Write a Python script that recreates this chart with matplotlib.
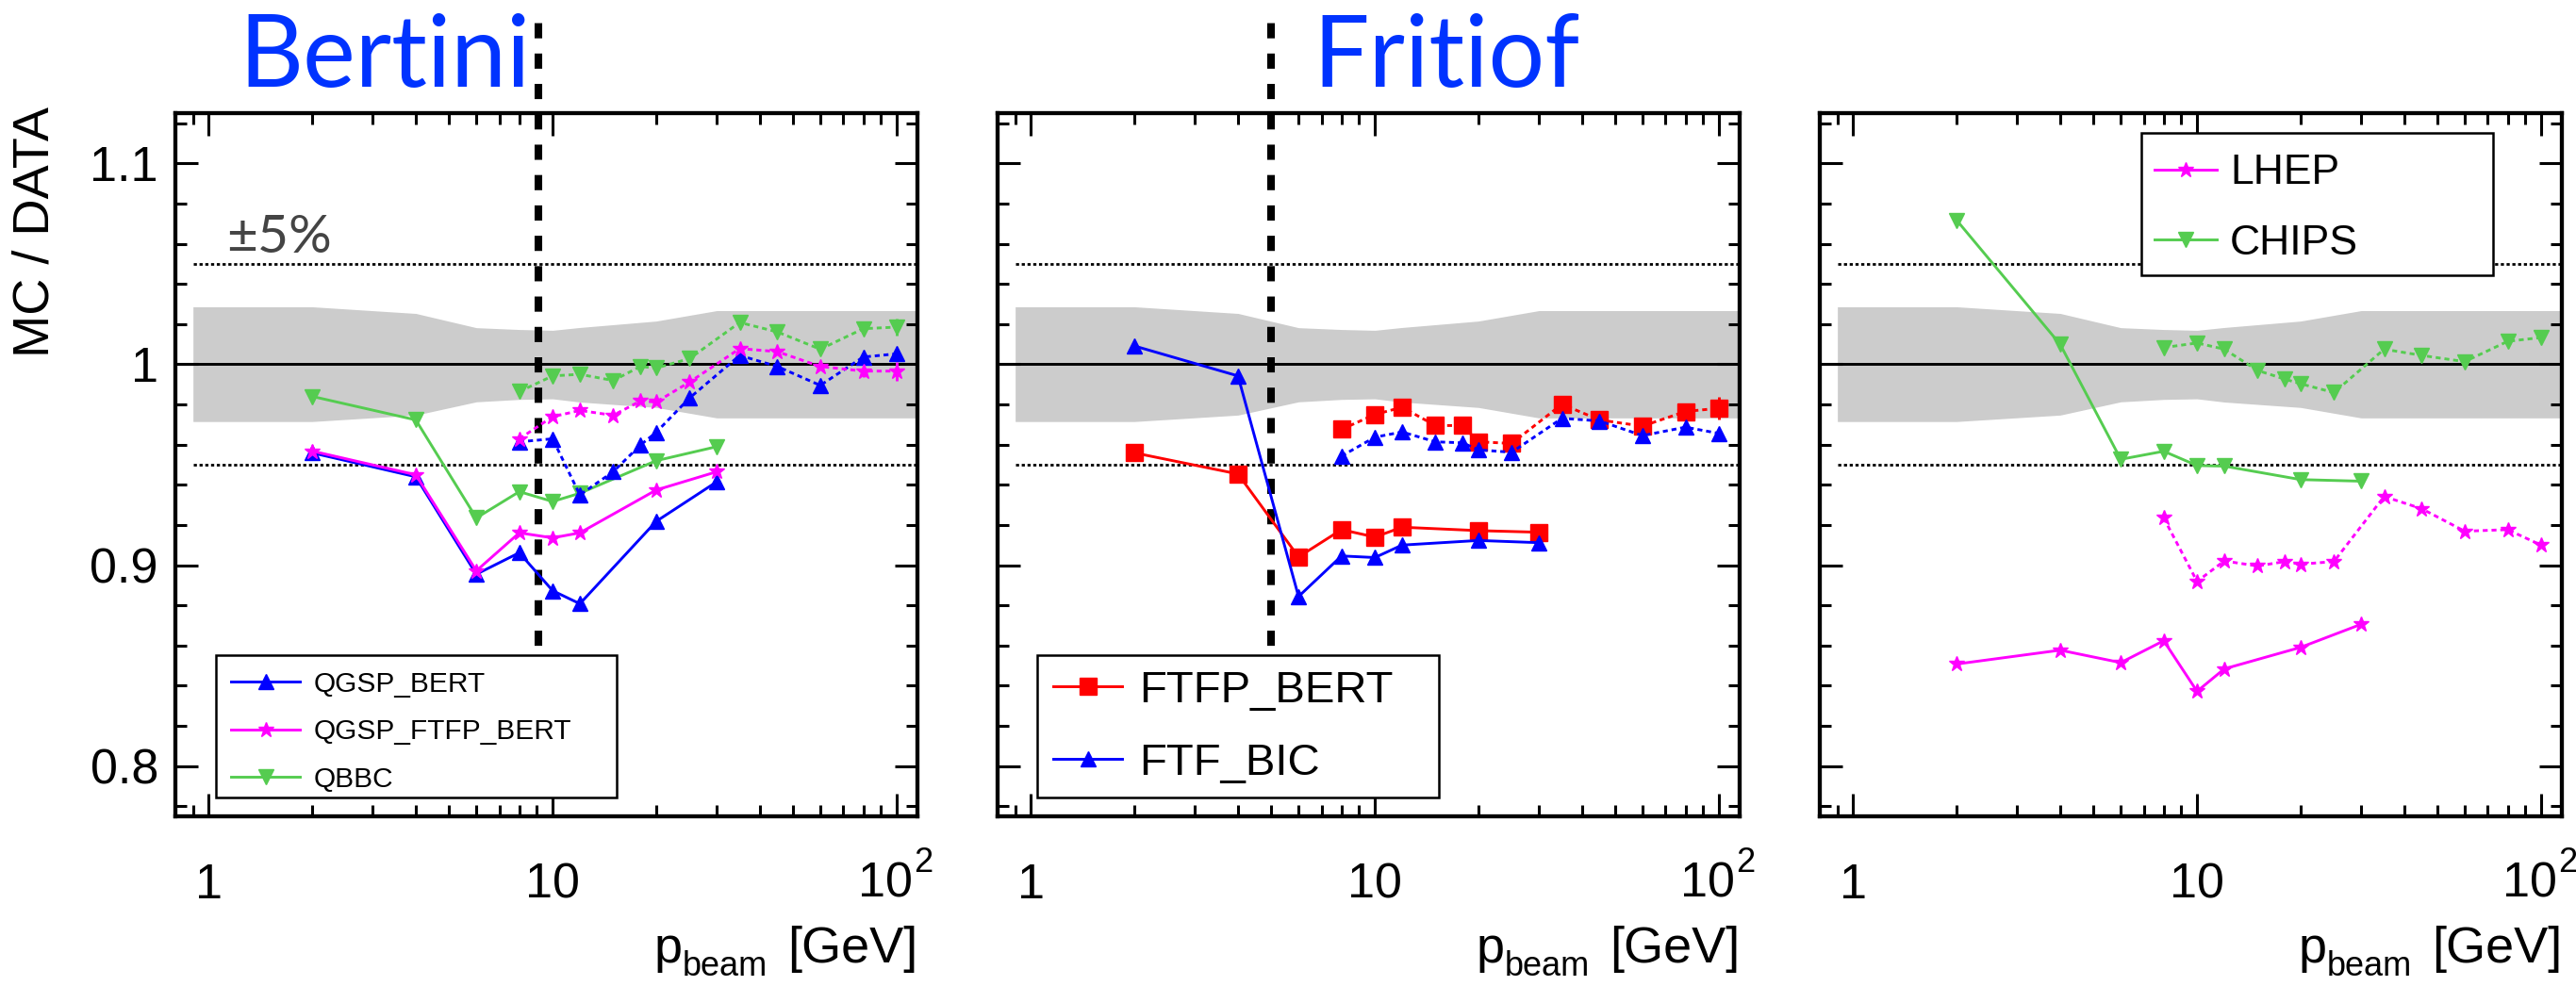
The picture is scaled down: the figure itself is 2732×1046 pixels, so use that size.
import matplotlib
matplotlib.use('Agg')
import matplotlib.pyplot as plt
import numpy as np
from matplotlib.patches import Rectangle
from matplotlib.transforms import ScaledTranslation
from matplotlib.ticker import (FixedLocator, FixedFormatter, MultipleLocator,
                               LogLocator, NullFormatter)

plt.rcParams['font.family'] = ['Liberation Sans', 'DejaVu Sans']

# beam momenta [GeV]
p_low = [2, 4, 6, 8, 10, 12, 20, 30]
p_high = [8, 10, 12, 15, 18, 20, 25, 35, 45, 60, 80, 100]

# data uncertainty band
band_p = [0.9, 2, 4, 6, 8, 10, 12, 20, 30, 115]
band_hi = [1.0286, 1.0286, 1.0253, 1.0182, 1.0173, 1.0169, 1.0183, 1.0215, 1.0267, 1.0267]
band_lo = [0.9715, 0.9715, 0.9747, 0.9813, 0.9825, 0.9828, 0.9812, 0.9785, 0.9733, 0.9733]
ref_levels = [0.95, 1.05]

# Bertini
qgsp_bert_low = [0.9559, 0.944, 0.8955, 0.9062, 0.8873, 0.8808, 0.9218, 0.9415]
qgsp_bert_high = [0.9614, 0.9629, 0.935, 0.9465, 0.9598, 0.9661, 0.9832, 1.0044, 0.9989, 0.9895, 1.0036, 1.0052]
qgsp_ftfp_low = [0.9568, 0.945, 0.8972, 0.9161, 0.9136, 0.9161, 0.9374, 0.9465]
qgsp_ftfp_high = [0.9629, 0.9739, 0.977, 0.9746, 0.9817, 0.9812, 0.9911, 1.0078, 1.0063, 0.9989, 0.9966, 0.9966]
qgsp_ftfp_err = [0, 0, 0, 0, 0, 0, 0, 0, 0, 0, 0.003, 0.0047]
qbbc_low = [0.984, 0.9723, 0.9235, 0.9366, 0.9317, 0.9358, 0.952, 0.959]
qbbc_high = [0.9864, 0.9942, 0.995, 0.9919, 0.9989, 0.9981, 1.0028, 1.0208, 1.0161, 1.0075, 1.0177, 1.0185]
qbbc_err = [0, 0, 0, 0, 0, 0, 0, 0, 0, 0, 0, 0.004]

# Fritiof
ftfp_bert_low = [0.9559, 0.9454, 0.9041, 0.9177, 0.914, 0.9189, 0.9172, 0.9164]
ftfp_bert_high = [0.9676, 0.975, 0.9786, 0.9695, 0.9695, 0.9614, 0.9606, 0.9801, 0.9723, 0.9692, 0.9765, 0.9781]
ftfp_bert_err = [0, 0, 0, 0, 0, 0, 0, 0, 0, 0, 0, 0.0056]
ftf_bic_low = [1.0091, 0.9942, 0.8844, 0.9046, 0.9038, 0.91, 0.9123, 0.9112]
ftf_bic_high = [0.9543, 0.9637, 0.9663, 0.9614, 0.9609, 0.9574, 0.9562, 0.9731, 0.9718, 0.9645, 0.9687, 0.9656]

# others
lhep_low = [0.8508, 0.8577, 0.8515, 0.8624, 0.8372, 0.8484, 0.8591, 0.8706]
lhep_high = [0.9235, 0.8919, 0.9021, 0.8996, 0.9018, 0.9005, 0.9018, 0.9342, 0.9281, 0.9169, 0.9177, 0.91]
chips_low = [1.0717, 1.0099, 0.9527, 0.9567, 0.9496, 0.9493, 0.9426, 0.9418]
chips_high = [1.0083, 1.0106, 1.0075, 0.9969, 0.9926, 0.9903, 0.9859, 1.0075, 1.0044, 1.0013, 1.0114, 1.0133]

cut_p = [9.1, 5.0, None]
x_ticks = [1, 10, 100]
x_ticklabels = ['1', '10', '']      # 10^2 is drawn by hand (ROOT-like exponent)
y_ticks = [0.8, 0.9, 1.0, 1.1]
y_ticklabels = ['0.8', '0.9', '1', '1.1']

BLUE, MAG, GREEN, RED = '#0000ff', '#ff00ff', '#55cc50', '#ff0000'
LW = 2.1
DASH = (0, (1.8, 1.4))

W, H = 2732, 1046
fig = plt.figure(figsize=(W / 100, H / 100), dpi=100)
axes = [fig.add_axes([l / W, (H - 866) / H, 787 / W, 746 / H]) for l in (186, 1058, 1930)]


def series(ax, x, y, color, marker, ms, dashed=False, err=None, label=None):
    ls = DASH if dashed else '-'
    if err is not None:
        ax.errorbar(x, y, yerr=err, color=color, ls='none', lw=LW, capsize=0, zorder=4)
    line, = ax.plot(x, y, color=color, ls=ls, lw=LW, marker=marker, ms=ms,
                    mew=1, mec=color, mfc=color, zorder=4, label=label)
    return line


def legend_box(ax, handles, box, anchor, fs, hl, htp, ls):
    # plain square frame drawn by hand, entries placed inside it
    ax.add_patch(Rectangle(box[:2], box[2], box[3], transform=ax.transAxes,
                           fc='white', ec='black', lw=1.8, zorder=5, clip_on=False))
    leg = ax.legend(handles=handles, loc='upper left', bbox_to_anchor=anchor,
                    borderaxespad=0, borderpad=0, fontsize=fs, handlelength=hl,
                    handletextpad=htp, labelspacing=ls, frameon=False, numpoints=1)
    leg.set_zorder(6)


for i, ax in enumerate(axes):
    ax.fill_between(band_p, band_lo, band_hi, color='#cccccc', lw=0, zorder=1)
    ax.hlines(ref_levels, band_p[0], band_p[-1], colors='black', lw=2.0,
              linestyles=[(0, (1.2, 1.0))], zorder=2)
    ax.axhline(1.0, color='black', lw=2.1, zorder=2)
    if cut_p[i] is not None:
        ax.axvline(cut_p[i], ymin=0.07, ymax=1.14, color='black', lw=5.8,
                   ls=(0, (2, 2)), clip_on=False, zorder=3)

    ax.set_xscale('log')
    ax.set_xlim(0.8, 115)
    ax.set_ylim(0.775, 1.125)
    ax.xaxis.set_major_locator(FixedLocator(x_ticks))
    ax.xaxis.set_major_formatter(FixedFormatter(x_ticklabels))
    ax.xaxis.set_minor_locator(LogLocator(base=10, subs=np.arange(2, 10), numticks=30))
    ax.xaxis.set_minor_formatter(NullFormatter())
    ax.yaxis.set_major_locator(FixedLocator(y_ticks))
    ax.yaxis.set_minor_locator(MultipleLocator(0.02))
    ax.tick_params(which='both', direction='in', top=True, right=True, width=2.2)
    ax.tick_params(which='major', length=17)
    ax.tick_params(which='minor', length=8.5)
    ax.tick_params(axis='x', which='major', labelsize=37.5, pad=35)
    ax.tick_params(axis='y', which='major', labelsize=37.5, pad=13, labelleft=(i == 0))
    if i == 0:
        ax.yaxis.set_major_formatter(FixedFormatter(y_ticklabels))
    for s in ax.spines.values():
        s.set_linewidth(3.1)

    # 10^2 label: mantissa and raised exponent
    xtrans = ax.get_xaxis_transform()
    ax.text(x_ticks[2], 0, '10', fontsize=37.5, ha='right', va='baseline',
            transform=xtrans + ScaledTranslation(0.17, -0.855, fig.dpi_scale_trans))
    ax.text(x_ticks[2], 0, '2', fontsize=26, ha='left', va='baseline',
            transform=xtrans + ScaledTranslation(0.185, -0.59, fig.dpi_scale_trans))

    # x title, ROOT style: p with a large low subscript
    ax.text(0.6836, -0.2084, 'p', transform=ax.transAxes, fontsize=39,
            ha='right', va='baseline')
    ax.text(0.6836, -0.2265, 'beam', transform=ax.transAxes, fontsize=26,
            ha='left', va='baseline')
    ax.text(1.001, -0.2084, '[GeV]', transform=ax.transAxes, fontsize=39,
            ha='right', va='baseline')

axes[0].set_ylabel('MC / DATA', fontsize=39, ha='right', va='baseline')
axes[0].yaxis.set_label_coords(-0.1715, 1.0094)

# Bertini panel
ax = axes[0]
h1 = series(ax, p_low, qgsp_bert_low, BLUE, '^', 11.5, label='QGSP_BERT')
h2 = series(ax, p_low, qgsp_ftfp_low, MAG, '*', 12, label='QGSP_FTFP_BERT')
h3 = series(ax, p_low, qbbc_low, GREEN, 'v', 11.5, label='QBBC')
series(ax, p_high, qgsp_bert_high, BLUE, '^', 11.5, dashed=True)
series(ax, p_high, qgsp_ftfp_high, MAG, '*', 12, dashed=True, err=qgsp_ftfp_err)
series(ax, p_high, qbbc_high, GREEN, 'v', 11.5, dashed=True, err=qbbc_err)
legend_box(ax, [h1, h2, h3], (0.0546, 0.0268, 0.5401, 0.2024), (0.0756, 0.2071),
           21.5, 2.43, 0.48, 0.76)

# Fritiof panel
ax = axes[1]
h1 = series(ax, p_low, ftfp_bert_low, RED, 's', 13, label='FTFP_BERT')
h2 = series(ax, p_low, ftf_bic_low, BLUE, '^', 11.5, label='FTF_BIC')
series(ax, p_high, ftfp_bert_high, RED, 's', 13, dashed=True, err=ftfp_bert_err)
series(ax, p_high, ftf_bic_high, BLUE, '^', 11.5, dashed=True)
legend_box(ax, [h1, h2], (0.0534, 0.0268, 0.5413, 0.2024), (0.075, 0.2083),
           34, 1.55, 0.38, 0.70)

# LHEP / CHIPS panel
ax = axes[2]
h1 = series(ax, p_low, lhep_low, MAG, '*', 12, label='LHEP')
h2 = series(ax, p_low, chips_low, GREEN, 'v', 11.5, label='CHIPS')
series(ax, p_high, lhep_high, MAG, '*', 12, dashed=True)
series(ax, p_high, chips_high, GREEN, 'v', 11.5, dashed=True)
legend_box(ax, [h1, h2], (0.4327, 0.7698, 0.474, 0.2025), (0.451, 0.942),
           32, 1.48, 0.32, 0.75)

fig.text(253 / W, 1 - 92 / H, 'Bertini', fontsize=76, color='#0033ff',
         family=['Lato', 'DejaVu Sans'], va='baseline', ha='left')
fig.text(1392 / W, 1 - 92 / H, 'Fritiof', fontsize=76, color='#0033ff',
         family=['Lato', 'DejaVu Sans'], va='baseline', ha='left')
fig.text(240 / W, 1 - 268 / H, '\u00b15%', fontsize=41, color='#444444',
         family=['Lato', 'DejaVu Sans'], va='baseline', ha='left')

fig.savefig('out.png', dpi=100)
